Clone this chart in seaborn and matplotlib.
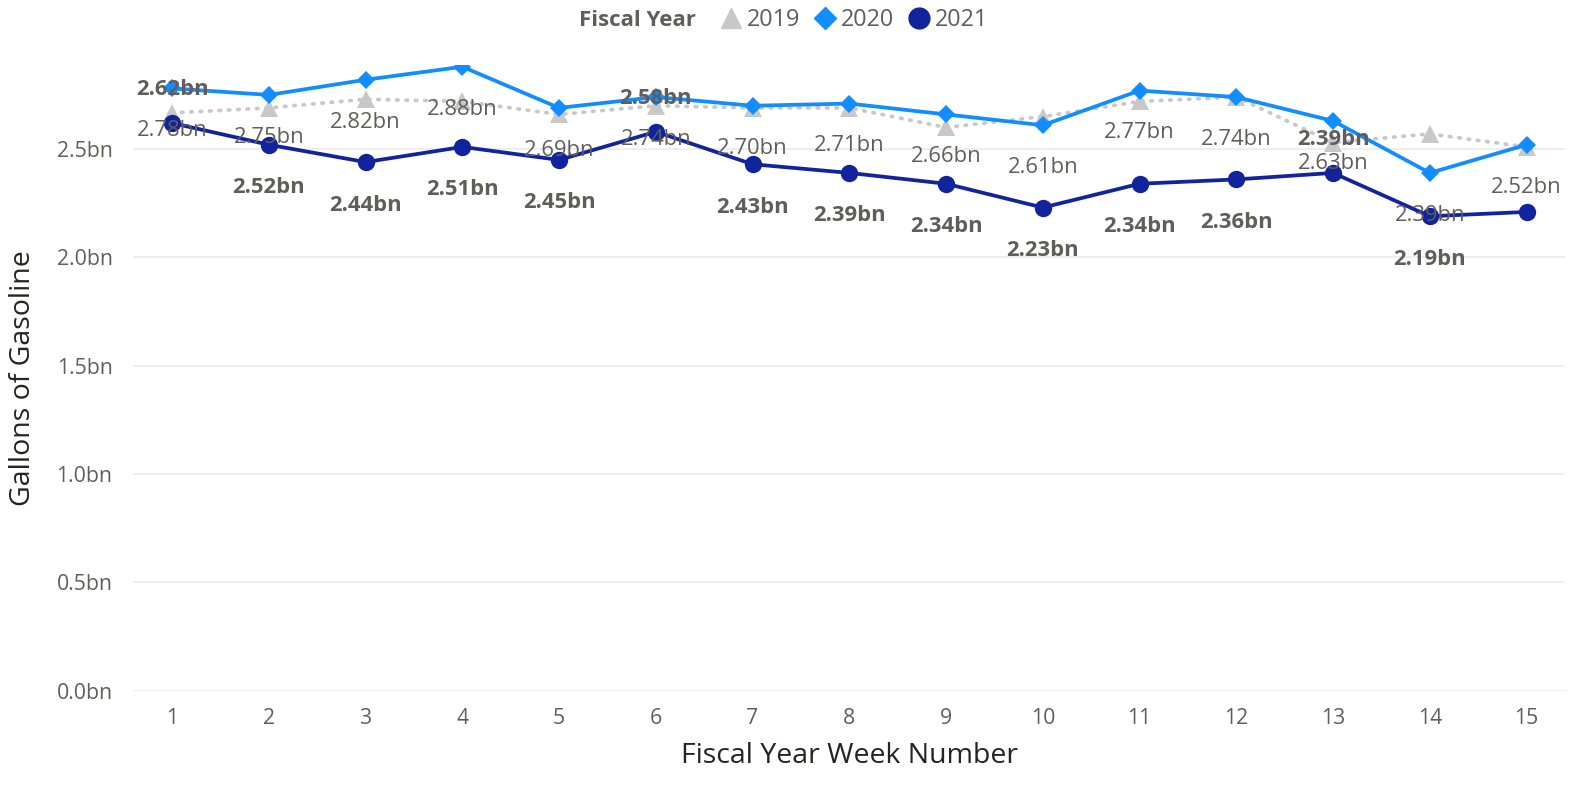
import numpy as np
import pandas as pd
import seaborn as sns
import matplotlib.pyplot as plt
from matplotlib.lines import Line2D

# data (billions of gallons)
weeks = list(range(1, 16))
fy2019 = [2.667, 2.69, 2.73, 2.72, 2.66, 2.70, 2.69, 2.69, 2.60, 2.65, 2.72, 2.74, 2.53, 2.57, 2.51]
fy2020 = [2.78, 2.75, 2.82, 2.88, 2.69, 2.74, 2.70, 2.71, 2.66, 2.61, 2.77, 2.74, 2.63, 2.39, 2.52]
fy2021 = [2.62, 2.52, 2.44, 2.51, 2.45, 2.58, 2.43, 2.39, 2.34, 2.23, 2.34, 2.36, 2.39, 2.19, 2.21]
# label placement: +1 above point, -1 below, 0 = no label
pos2020 = [-1] * 15
pos2021 = [1, -1, -1, -1, -1, 1, -1, -1, -1, -1, -1, -1, 1, -1, 0]
years = ["2019", "2020", "2021"]
colors = {"2019": "#C8C8C8", "2020": "#118DFF", "2021": "#12239E"}

df = pd.DataFrame({
    "week": weeks * 3,
    "year": ["2019"] * 15 + ["2020"] * 15 + ["2021"] * 15,
    "gallons": fy2019 + fy2020 + fy2021,
})

sns.set_theme(style="white")
plt.rcParams["font.family"] = ["Open Sans", "DejaVu Sans"]
txt_grey = "#605E5C"

fig = plt.figure(figsize=(15.79, 7.86), dpi=100)
ax = fig.add_axes([0.0845, 0.1211, 0.9068, 0.7962])

for y in [0, 0.5, 1.0, 1.5, 2.0, 2.5]:
    ax.axhline(y, color="#EDEDED", lw=1.3, zorder=0)

sns.lineplot(data=df[df.year == "2019"], x="week", y="gallons", color=colors["2019"],
             lw=2.7, marker="^", markersize=12.5, markeredgewidth=0, ax=ax, zorder=2)
ax.lines[-1].set_linestyle((0, (0.4, 2.1)))
ax.lines[-1].set_dash_capstyle("round")
sns.lineplot(data=df[df.year == "2020"], x="week", y="gallons", color=colors["2020"],
             lw=2.7, marker="D", markersize=9.5, markeredgewidth=0, ax=ax, zorder=3)
sns.lineplot(data=df[df.year == "2021"], x="week", y="gallons", color=colors["2021"],
             lw=2.7, marker="o", markersize=12.5, markeredgewidth=0, ax=ax, zorder=4)

for w, v, p in zip(weeks, fy2020, pos2020):
    if p:
        ax.annotate(f"{v:.2f}bn", (w, v), xytext=(0, 30.5 * p), textcoords="offset points",
                    ha="center", va="center", fontsize=15.8, color=txt_grey, zorder=5,
                    annotation_clip=False)
for w, v, p in zip(weeks, fy2021, pos2021):
    if p:
        ax.annotate(f"{v:.2f}bn", (w, v), xytext=(0, 24 * p if p > 0 else 31 * p),
                    textcoords="offset points", ha="center", va="center", fontsize=15.8,
                    fontweight="bold", color=txt_grey, zorder=6, annotation_clip=False)

ax.set_xlim(0.6, 15.4)
ax.set_ylim(0, 2.888)
ax.set_xticks(weeks)
ax.set_yticks([0, 0.5, 1.0, 1.5, 2.0, 2.5])
ax.set_yticklabels([f"{t:.1f}bn" for t in [0, 0.5, 1.0, 1.5, 2.0, 2.5]])
ax.tick_params(axis="both", labelsize=15.3, colors=txt_grey, length=0)
ax.tick_params(axis="x", pad=12.5)
ax.tick_params(axis="y", pad=15)
sns.despine(ax=ax, left=True, bottom=True)
ax.set_xlabel("Fiscal Year Week Number", fontsize=20.5, color="#252423", labelpad=9)
ax.set_ylabel("Gallons of Gasoline", fontsize=20.5, color="#252423", labelpad=14)

# legend across the top
fig.text(0.441, 0.974, "Fiscal Year", fontsize=16, fontweight="bold", color=txt_grey,
         ha="right", va="center")
handles = [
    Line2D([], [], ls="none", marker="^", markersize=15, color=colors["2019"]),
    Line2D([], [], ls="none", marker="D", markersize=11.5, color=colors["2020"]),
    Line2D([], [], ls="none", marker="o", markersize=15, color=colors["2021"]),
]
leg = fig.legend(handles, years, loc="center left", bbox_to_anchor=(0.456, 0.974), ncol=3,
                 frameon=False, fontsize=16.8, handlelength=0.9, handletextpad=0.25,
                 columnspacing=0.6, borderpad=0, borderaxespad=0)
for t in leg.get_texts():
    t.set_color(txt_grey)

fig.savefig("out.png", dpi=100)
